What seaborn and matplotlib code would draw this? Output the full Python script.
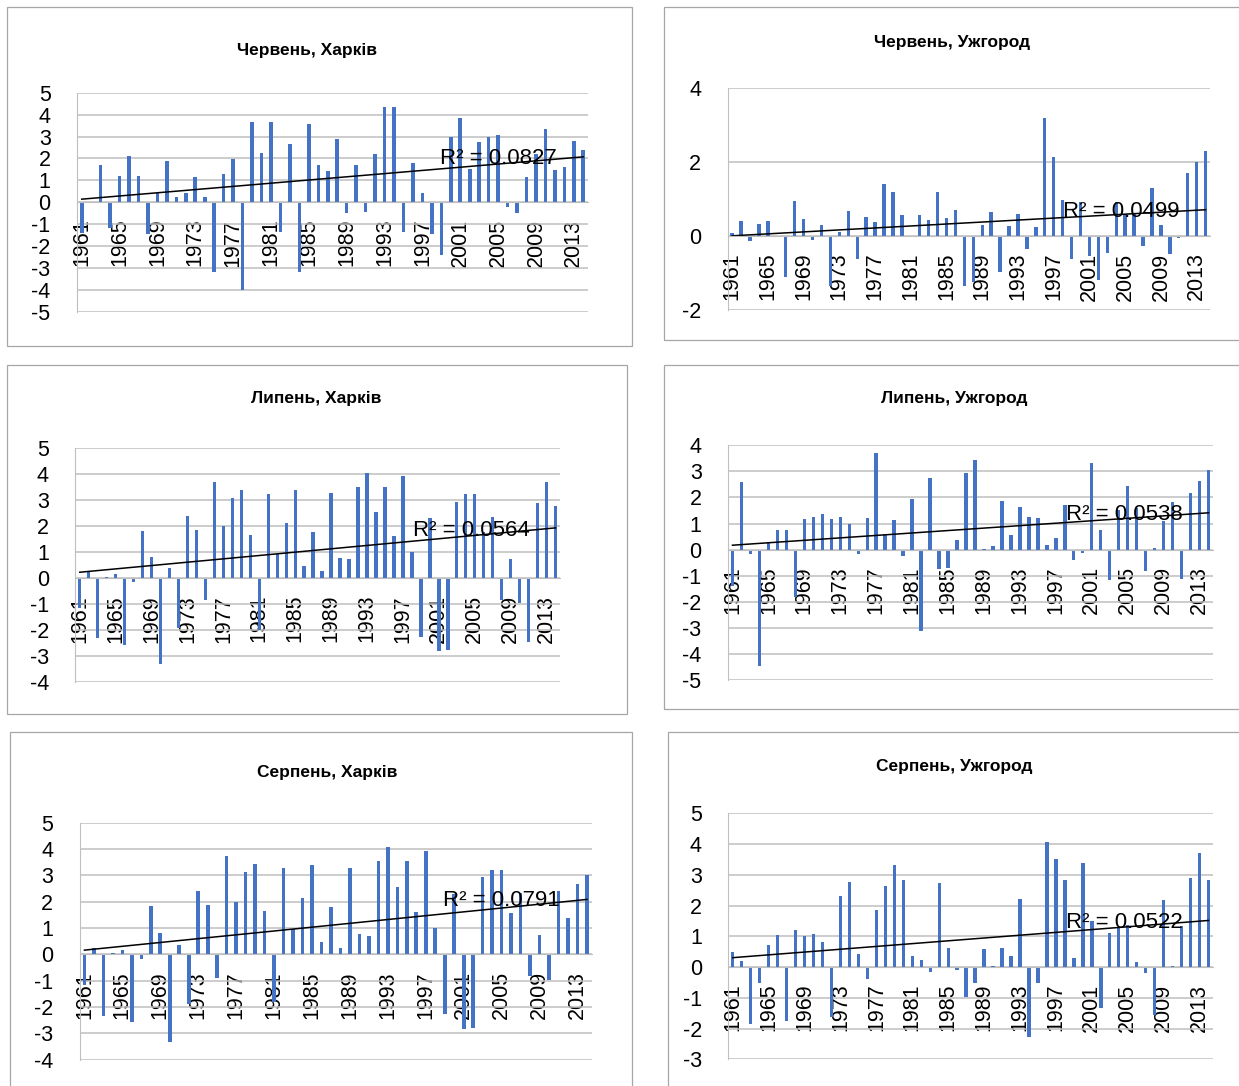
import numpy as np
import pandas as pd
import matplotlib
matplotlib.use('Agg')
import matplotlib.pyplot as plt
from matplotlib.patches import Rectangle
import seaborn as sns

years = [str(y) for y in range(1961, 2015)]

jun_kharkiv = [-1.4, 0.0, 1.7, -1.2, 1.2, 2.1, 1.2, -1.45, 0.4, 1.9, 0.23, 0.4, 1.15, 0.23,
               -3.2, 1.27, 1.97, -4.03, 3.65, 2.24, 3.65, -1.35, 2.65, -3.17, 3.55, 1.7, 1.44, 2.88,
               -0.5, 1.7, -0.45, 2.2, 4.35, 4.35, -1.38, 1.77, 0.42, -1.44, -2.4, 2.98, 3.86, 1.52,
               2.76, 2.98, 3.06, -0.24, -0.5, 1.14, 2.18, 3.36, 1.47, 1.59, 2.79, 2.38]
jun_uzhhorod = [0.08, 0.4, -0.14, 0.32, 0.41, -0.02, -1.1, 0.95, 0.46, -0.12, 0.3, -1.36, 0.1, 0.68,
                -0.62, 0.5, 0.38, 1.41, 1.19, 0.57, 0.01, 0.57, 0.43, 1.19, 0.48, 0.71, -1.36, -1.24,
                0.29, 0.64, -0.97, 0.28, 0.59, -0.35, 0.23, 3.18, 2.14, 0.96, -0.61, 0.91, -0.55, -1.18,
                -0.47, 0.92, 0.58, 0.58, -0.27, 1.29, 0.29, -0.49, -0.05, 1.71, 2.0, 2.3]
jul_kharkiv = [-1.13, 0.26, -2.31, 0.06, 0.18, -2.56, -0.15, 1.82, 0.83, -3.31, 0.38, -1.9, 2.4, 1.87,
               -0.83, 3.72, 2.0, 3.1, 3.4, 1.67, -1.99, 3.24, 0.94, 2.12, 3.4, 0.49,
               1.79, 0.27, 3.27, 0.77, 0.73, 3.53, 4.06, 2.56, 3.53, 1.63, 3.92, 1.0, -2.26, 2.31,
               -2.79, -2.77, 2.94, 3.23, 3.23, 1.8, 2.36, -0.82, 0.74, -0.95, -2.46, 2.88, 3.69, 2.78]
jul_uzhhorod = [-1.38, 2.58, -0.15, -4.47, 0.25, 0.76, 0.76, -1.82, 1.16, 1.25, 1.35, 1.16, 1.25, 0.98,
                -0.15, 1.22, 3.69, 0.6, 1.13, -0.23, 1.94, -3.12, 2.74, -0.75, -0.7, 0.38, 2.92,
                3.44, 0.04, 0.13, 1.86, 0.56, 1.63, 1.25, 1.22, 0.19, 0.45, 1.71, -0.41, -0.14, 3.32,
                0.76, -1.16, 1.5, 2.45, 1.6, -0.83, 0.06, 1.1, 1.83, -1.13, 2.17, 2.65, 3.06]
aug_kharkiv = [-1.16, 0.23, -2.33, 0.06, 0.16, -2.58, -0.18, 1.84, 0.81, -3.34, 0.37, -1.9, 2.39, 1.86,
               -0.89, 3.72, 1.99, 3.11, 3.42, 1.63, -1.8, 3.27, 0.96, 2.13, 3.39, 0.47,
               1.78, 0.25, 3.27, 0.76, 0.71, 3.53, 4.06, 2.56, 3.53, 1.61, 3.91, 0.99, -2.28, 2.3,
               -2.82, -2.8, 2.94, 3.22, 3.22, 1.57, 2.34, -0.82, 0.72, -0.97, 2.4, 1.4, 2.68, 3.0]
aug_uzhhorod = [0.49, 0.2, -1.85, -0.51, 0.71, 1.05, -1.77, 1.22, 1.02, 1.08, 0.8, -1.61, 2.3, 2.75,
                0.43, -0.39, 1.87, 2.64, 3.33, 2.82, 0.35, 0.24, -0.17, 2.73, 0.62, -0.1,
                -0.98, -0.52, 0.58, 0.02, 0.62, 0.37, 2.21, -2.28, -0.51, 4.08, 3.5, 2.84, 0.28, 3.37,
                1.51, -1.32, 1.11, 1.27, 1.38, 0.15, -0.2, -1.55, 2.18, 0.02, 1.35, 2.89, 3.72, 2.82]

titles = ['Червень, Харків', 'Червень, Ужгород', 'Липень, Харків',
          'Липень, Ужгород', 'Серпень, Харків', 'Серпень, Ужгород']
r2_labels = ['R² = 0.0827', 'R² = 0.0499', 'R² = 0.0564',
             'R² = 0.0538', 'R² = 0.0791', 'R² = 0.0522']
series = [jun_kharkiv, jun_uzhhorod, jul_kharkiv, jul_uzhhorod, aug_kharkiv, aug_uzhhorod]
y_ranges = [(-5, 5, 1), (-2, 4, 2), (-4, 5, 1), (-5, 4, 1), (-4, 5, 1), (-3, 5, 1)]

W, H = 1239, 1086
plt.rcParams['font.family'] = ['Liberation Sans', 'DejaVu Sans']
plt.rcParams['axes.unicode_minus'] = False

# pixel layout (left, top, right, bottom)
plot_boxes = [(77, 92.7, 588, 311.7), (727.7, 87.7, 1210, 310),
              (75.3, 448.3, 560, 682.3), (728, 445.3, 1213, 680),
              (79.7, 822.7, 591.7, 1059.7), (728.3, 813.3, 1213, 1059.3)]
frames = [(7, 7, 632, 346), (664, 7, 1250, 340), (7, 365, 627, 714),
          (664, 365, 1250, 709), (10, 732, 632, 1100), (668, 732, 1250, 1100)]
title_pos = [(307, 50), (952, 42), (316, 398), (954, 399), (327, 772), (954, 767)]
r2_pos = [(498, 158), (1121, 212), (471, 530), (1124, 514), (501, 901), (1124, 922)]

fig = plt.figure(figsize=(W / 100, H / 100), dpi=100)
fig.patch.set_facecolor('white')

for k in range(6):
    fl, ft, fr, fb = frames[k]
    fig.patches.append(Rectangle((fl / W, 1 - fb / H), (fr - fl) / W, (fb - ft) / H,
                                 transform=fig.transFigure, fill=False,
                                 edgecolor='#A6A6A6', linewidth=0.9))

    l, t, r, b = plot_boxes[k]
    ax = fig.add_axes([l / W, 1 - b / H, (r - l) / W, (b - t) / H])
    df = pd.DataFrame({'year': years, 'value': series[k]})
    sns.barplot(data=df, x='year', y='value', color='#4472C4', saturation=1,
                width=0.38, ax=ax)

    # linear trend
    xi = np.arange(len(years))
    coef = np.polyfit(xi, df['value'], 1)
    ax.plot(xi, np.polyval(coef, xi), color='black', linewidth=1.1)

    lo, hi, step = y_ranges[k]
    ax.set_ylim(lo, hi)
    ax.set_yticks(np.arange(lo, hi + step / 2, step))
    ax.set_xlim(-0.5, len(years) - 0.5)
    ax.set_xticks(xi[::4])
    ax.set_xticklabels(years[::4])
    ax.grid(axis='y', color='#BFBFBF', linewidth=1.1)
    ax.set_axisbelow(True)
    ax.set_xlabel('')
    ax.set_ylabel('')
    for s in ['top', 'right']:
        ax.spines[s].set_visible(False)
    ax.spines['left'].set_color('#BFBFBF')
    ax.spines['bottom'].set_color('#BFBFBF')
    ax.spines['bottom'].set_position(('data', 0))
    ax.tick_params(axis='x', length=0, pad=12, labelrotation=90, labelsize=15.5)
    ax.tick_params(axis='y', length=0, pad=19, labelsize=15.5)
    ax.set_facecolor('none')

    tx, ty = title_pos[k]
    fig.text(tx / W, 1 - ty / H, titles[k], ha='center', va='center',
             fontsize=12.5, fontweight='bold')
    rx, ry = r2_pos[k]
    fig.text(rx / W, 1 - ry / H, r2_labels[k], ha='center', va='center', fontsize=16)

fig.savefig('out.png', dpi=100)
